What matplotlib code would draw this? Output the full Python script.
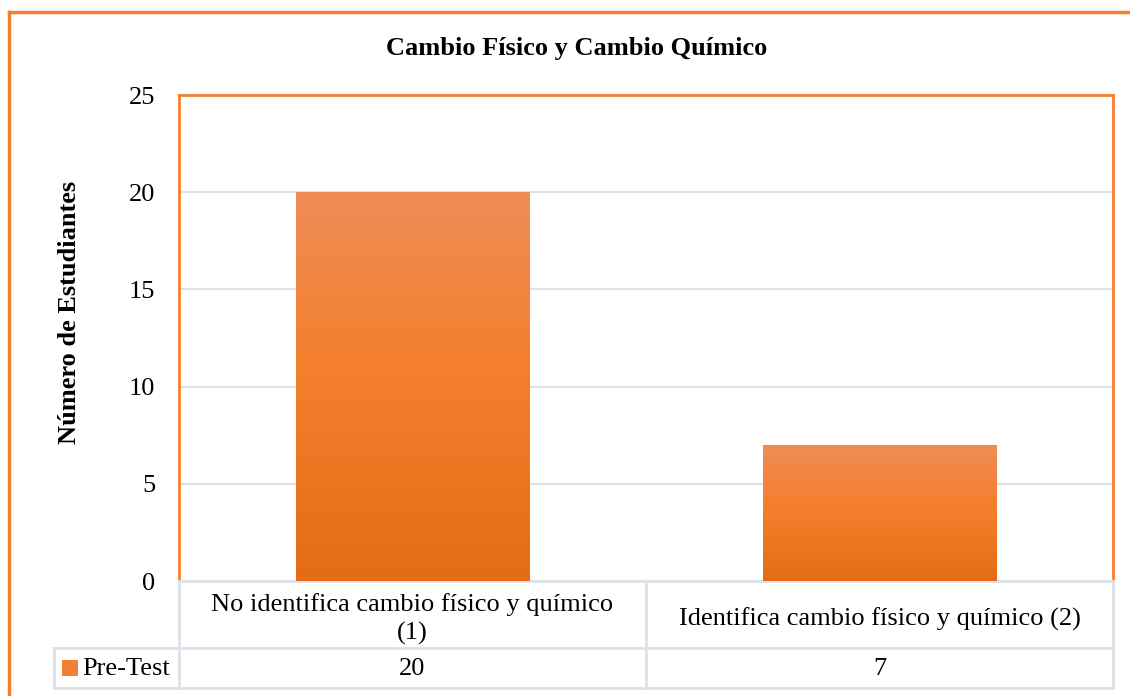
import numpy as np
import matplotlib
matplotlib.use("Agg")
import matplotlib.pyplot as plt
from matplotlib.colors import LinearSegmentedColormap
from matplotlib.lines import Line2D
from matplotlib.patches import Rectangle

# data
categories = ["No identifica cambio físico y químico\n(1)",
              "Identifica cambio físico y químico (2)"]
series_name = "Pre-Test"
values = [20, 7]
yticks = [0, 5, 10, 15, 20, 25]

plt.rcParams["font.family"] = ["Liberation Serif", "DejaVu Serif"]

W, H = 1130, 696
fig = plt.figure(figsize=(W / 100, H / 100), dpi=100)


def fx(px):
    return px / W


def fy(py):
    return 1 - py / H


orange = "#F4802F"
grid_col = "#DCE1E8"
fs = 19

left, right, top, bottom = 179, 1113, 95, 581
ax = fig.add_axes([fx(left), fy(bottom), fx(right - left), fy(top) - fy(bottom)])

x = np.arange(len(values))
bars = ax.bar(x, values, width=0.5, color="none", zorder=3)

# vertical gradient inside each bar
grad = LinearSegmentedColormap.from_list(
    "bar", [(0.0, "#E46C18"), (0.55, "#F47F2C"), (1.0, "#F08C57")])
ramp = np.linspace(0, 1, 256).reshape(-1, 1)
for b in bars:
    x0, y0 = b.get_x(), b.get_y()
    im = ax.imshow(ramp, cmap=grad, origin="lower", aspect="auto",
                   extent=[x0, x0 + b.get_width(), y0, y0 + b.get_height()],
                   zorder=3)
    im.set_clip_path(b)
ax.set_xlim(-0.5, len(values) - 0.5)
ax.set_ylim(0, 25)

ax.set_yticks(yticks)
ax.set_yticklabels([str(t) for t in yticks], fontsize=fs)
ax.tick_params(axis="y", length=0, pad=17)
ax.set_xticks([])
ax.yaxis.grid(True, color=grid_col, linewidth=1.5, zorder=0)
ax.set_axisbelow(True)
for s in ["top", "right", "left"]:
    ax.spines[s].set_color(orange)
    ax.spines[s].set_linewidth(2)
ax.spines["bottom"].set_color(grid_col)
ax.spines["bottom"].set_linewidth(2)

fig.text(fx(70), fy(312), "Número de Estudiantes", fontsize=fs, fontweight="bold",
         rotation=90, ha="center", va="center")
fig.text(fx(577), fy(48), "Cambio Físico y Cambio Químico", fontsize=fs,
         fontweight="bold", ha="center", va="center")

# data table below the plot
row1, row2, row3 = 582, 648, 688
leg_left = 54
col_edges = np.linspace(left, right, len(values) + 1)


def hline(x0, x1, y):
    fig.add_artist(Line2D([fx(x0), fx(x1)], [fy(y), fy(y)], color=grid_col, lw=2))


def vline(x, y0, y1):
    fig.add_artist(Line2D([fx(x), fx(x)], [fy(y0), fy(y1)], color=grid_col, lw=2))


hline(leg_left, right, row2)
hline(leg_left, right, row3)
for ce in col_edges:
    vline(ce, row1, row3)
vline(leg_left, row2, row3)

for i, (cat, val) in enumerate(zip(categories, values)):
    cx = (col_edges[i] + col_edges[i + 1]) / 2
    fig.text(fx(cx), fy((row1 + row2) / 2 + 4), cat, fontsize=fs, ha="center",
             va="center", linespacing=1.3)
    fig.text(fx(cx), fy((row2 + row3) / 2 + 1), str(val), fontsize=fs,
             ha="center", va="center")

fig.add_artist(Rectangle((fx(62), fy(676)), fx(16), fy(660) - fy(676),
                         facecolor="#F27F35", edgecolor="none"))
fig.text(fx(82), fy((row2 + row3) / 2 + 1), series_name, fontsize=fs,
         ha="left", va="center")

# chart frame
fig.add_artist(Line2D([fx(9), fx(9)], [fy(12), 0], color=orange, lw=2.5))
fig.add_artist(Line2D([fx(9), 1], [fy(12), fy(12)], color=orange, lw=2.5))

fig.savefig("out.png", dpi=100)
